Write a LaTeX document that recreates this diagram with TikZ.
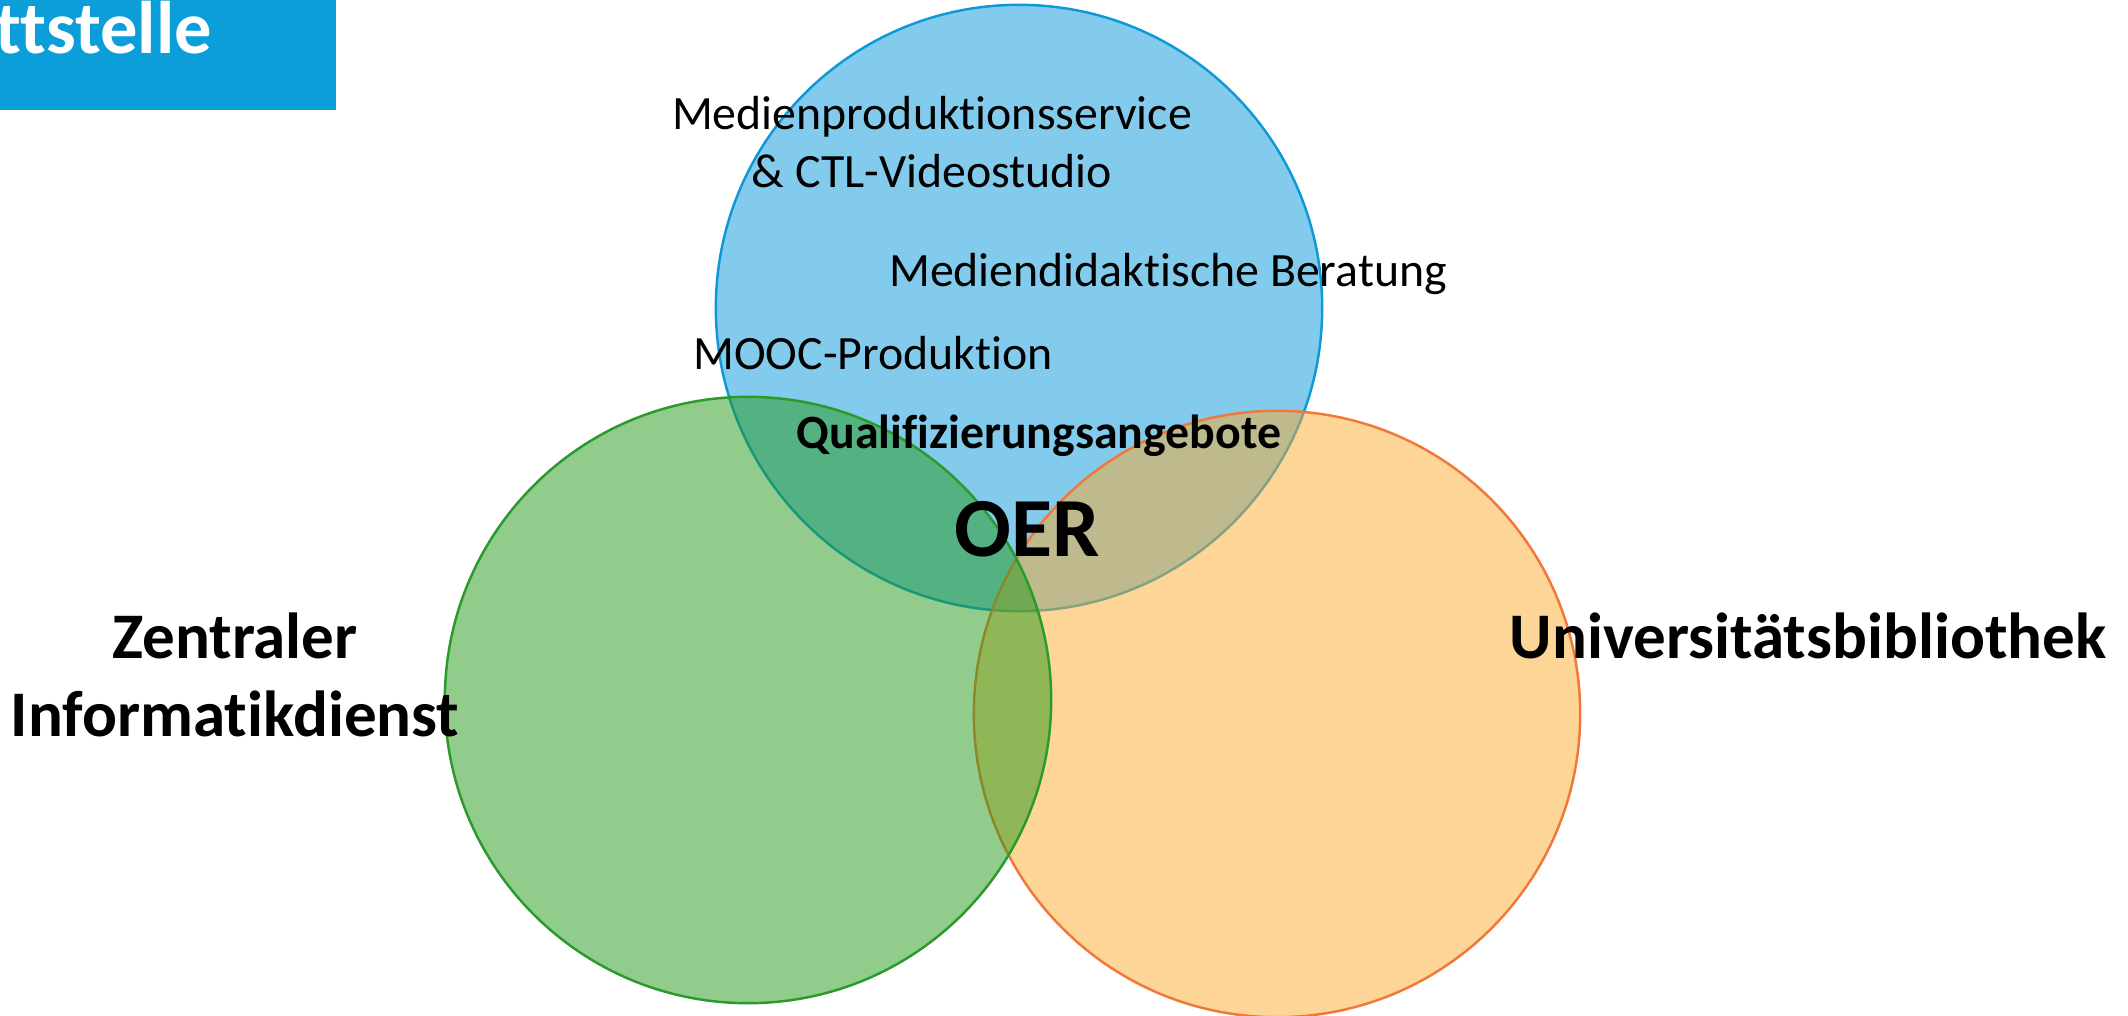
\documentclass[tikz,border=0pt]{standalone}
\usepackage{fontspec}
\setmainfont{Carlito}[Ligatures={NoCommon,NoContextual}]
\usetikzlibrary{positioning}

\definecolor{zmlblue}{HTML}{0598D9}
\definecolor{zmlblueline}{HTML}{0E98D8}
\definecolor{zidgreen}{HTML}{259919}
\definecolor{zidgreenline}{HTML}{2A9A2A}
\definecolor{uborange}{HTML}{FBAB2F}
\definecolor{uborangeline}{HTML}{F07838}
\definecolor{headblue}{HTML}{0C9ED9}

\begin{document}
\begin{tikzpicture}[
x=0.01cm, y=-0.01cm,
unit/.style={
  circle,
  draw,
  line width=0.7pt,
  fill opacity=0.5,
  inner sep=0pt,
  minimum size=6.06cm
},
offer/.style={
  inner sep=0pt,
  align=center,
  font=\fontsize{13.6}{16.5}\selectfont
},
partner/.style={
  inner sep=0pt,
  align=center,
  font=\bfseries\fontsize{18.5}{22.2}\selectfont
}
]
\useasboundingbox (0,0) rectangle (2128,1015);

% title bar
\fill[headblue] (0,0) rectangle (336,110);
\node[anchor=base west,inner sep=0pt,text=white,font=\bfseries\fontsize{21.2}{25}\selectfont] 
  (title) at (-5,53) {ttstelle};

% circles
\node[unit,draw=zmlblueline,fill=zmlblue] (zml) at (1019,308) {};
\node[unit,draw=uborangeline,fill=uborange] (ub) at (1277,714) {};
\node[unit,draw=zidgreenline,fill=zidgreen] (zid) at (748,700) {};

% services
\node[offer] (medien) at (932,142) 
  {Medienproduktionsservice\\ \& CTL-Videostudio};
\node[offer] (beratung) at (1168,274) 
  {Mediendidaktische Beratung};
\node[offer] (mooc) at (873,353) 
  {MOOC-Produktion};
\node[offer,font=\bfseries\fontsize{13.6}{16.5}\selectfont] (quali) at (1039,436) 
  {Qualifizierungsangebote};
\node[inner sep=0pt,font=\bfseries\fontsize{23.9}{28}\selectfont] (oer) at (1027,529) 
  {OER};

% partners
\node[partner] (zidlabel) at (235,675) 
  {Zentraler\\ Informatikdienst};
\node[partner] (ublabel) at (1808,636) 
  {Universitätsbibliothek};
\end{tikzpicture}
\end{document}
